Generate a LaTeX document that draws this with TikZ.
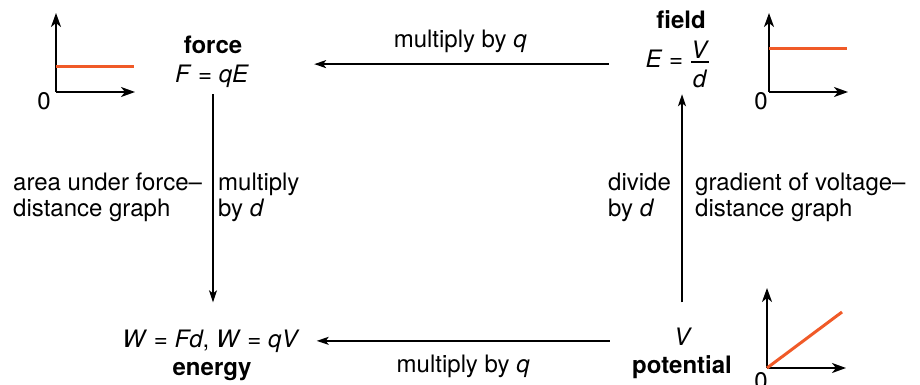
\documentclass[tikz,border=0pt]{standalone}
\usepackage{fontspec}
\setmainfont{TeX Gyre Heros}
\usetikzlibrary{arrows.meta,calc}
\definecolor{graphline}{RGB}{240,90,40}
\tikzset{
  txt/.style={inner sep=0pt,font=\fontsize{24}{26}\selectfont},
  conn/.style={line width=1.3pt,-{Stealth[length=12pt,width=8pt,inset=3pt]}},
  axis/.style={line width=2pt,-{Stealth[length=14pt,width=10pt,inset=4pt]}},
  curve/.style={line width=3pt,graphline},
}
\begin{document}
\begin{tikzpicture}[x=1pt,y=-1pt]
\clip (0,0) rectangle (920,385);
% graphs
\draw[axis] (56,92) -- (56,13);
\draw[axis] (56,92) -- (135,92);
\draw[curve] (56,67) -- (134,67);
\node[txt,anchor=base] (zeroA) at (44,110) {0};

\draw[axis] (769,92) -- (769,13);
\draw[axis] (769,92) -- (848,92);
\draw[curve] (769,49) -- (847,49);
\node[txt,anchor=base] (zeroB) at (761,110) {0};

\draw[axis] (767,368) -- (767,288);
\draw[axis] (767,368) -- (846,368);
\draw[curve] (767,368) -- (842,312);
\node[txt,anchor=base] (zeroC) at (761,389) {0};

% main nodes
\node[txt,anchor=base] (forceT) at (213,54) {\textbf{force}};
\node[txt,anchor=base] (forceE) at (212,83) {\textit{F} = \textit{qE}};
\node[txt,anchor=base] (fieldT) at (681,29) {\textbf{field}};
\node[txt,anchor=base] (fieldE) at (678,68) {\textit{E} = $\textstyle{\mbox{\textit{V}} \above 1.6pt \mbox{\rule{0pt}{23pt}\textit{d}}}$};
\node[txt,anchor=base] (energyE) at (211,347) {\textit{W} = \textit{Fd}, \textit{W} = \textit{qV}};
\node[txt,anchor=base] (energyT) at (212,375) {\textbf{energy}};
\node[txt,anchor=base] (potV) at (683,345) {\textit{V}};
\node[txt,anchor=base] (potT) at (682,373) {\textbf{potential}};

% connectors
\draw[conn,shorten <=37pt,shorten >=65pt] (fieldE.west) -- (fieldE.west -| forceE.east)
  node[txt,pos=0.4675,anchor=base,yshift=17pt] (lblTop) {multiply by \textit{q}};
\draw[conn,shorten <=64pt,shorten >=17pt] ([yshift=-4.6pt]potV.west) -- ([yshift=-4.6pt]potV.west -| energyE.east)
  node[txt,pos=0.563,anchor=base,yshift=-32pt] (lblBot) {multiply by \textit{q}};
\draw[conn,shorten <=6pt,shorten >=27pt] ([xshift=1pt]forceE.south) -- ([xshift=1pt]forceE.south |- energyE.north);
\draw[conn,shorten <=25pt,shorten >=6.5pt] ([xshift=-1pt]potV.north) -- ([xshift=-1pt]potV.north |- fieldE.south);

% side labels
\node[txt,anchor=base west,align=left] (lblArea) at (13,216) {area under force--\\distance graph};
\node[txt,anchor=base west,align=left] (lblMulD) at (218,216) {multiply\\by \textit{d}};
\node[txt,anchor=base west,align=left] (lblDivD) at (608,216) {divide\\by \textit{d}};
\node[txt,anchor=base west,align=left] (lblGrad) at (695,216) {gradient of voltage--\\distance graph};
\end{tikzpicture}
\end{document}
